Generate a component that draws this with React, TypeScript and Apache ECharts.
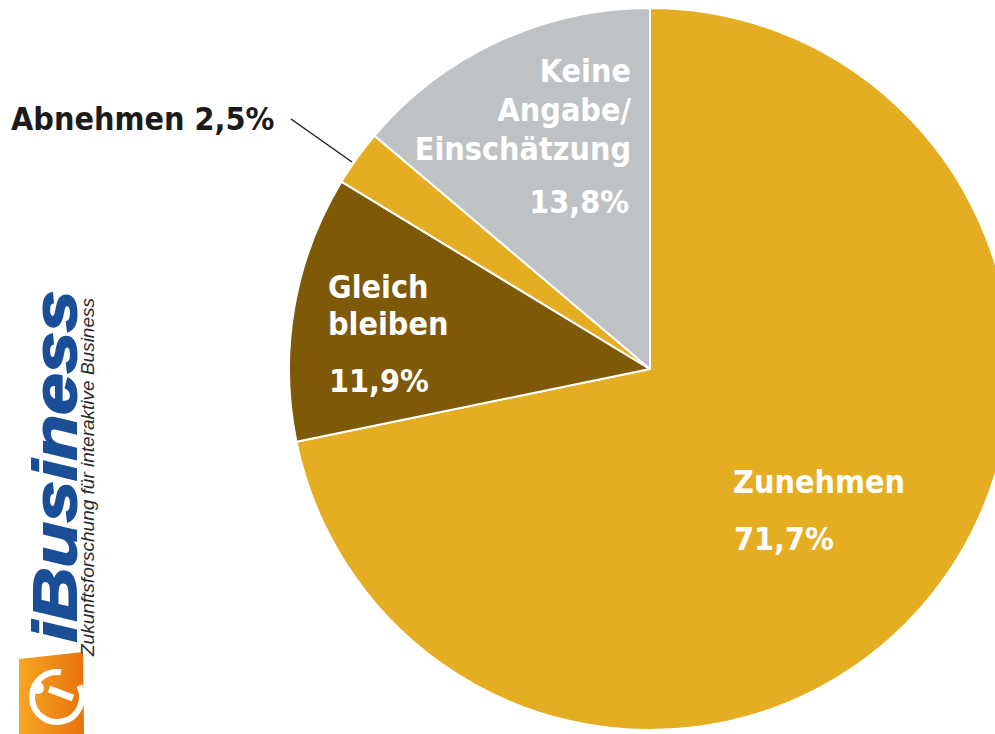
import React, { useEffect, useRef } from "react";
import * as echarts from "echarts";

const categories = ["Zunehmen", "Gleich bleiben", "Abnehmen", "Keine Angabe/Einschätzung"];
const values = [71.7, 11.9, 2.5, 13.8];
const colors = ["#E4AD22", "#7D5908", "#E4AD22", "#BFC2C4"];

const fmt = (v: number) => v.toFixed(1).replace(".", ",") + "%";

const FONT = "'DejaVu Sans Condensed', 'DejaVu Sans', sans-serif";

export default function App() {
  const ref = useRef<HTMLDivElement>(null);
  useEffect(() => {
    document.body.style.margin = "0";
    const chart = echarts.init(ref.current!, null, { renderer: "svg" });
    const white = (txt: string, x: number, y: number, align: string, lh = 38) => ({
      type: "text",
      z: 100,
      style: {
        text: txt,
        x,
        y,
        align,
        verticalAlign: "middle",
        fill: "#ffffff",
        font: `bold 32px ${FONT}`,
        lineHeight: lh,
      },
    });
    chart.setOption({
      animation: false,
      backgroundColor: "#ffffff",
      series: [
        {
          type: "pie",
          center: [650, 369],
          radius: 361,
          startAngle: 90,
          clockwise: true,
          label: { show: false },
          labelLine: { show: false },
          silent: true,
          itemStyle: { borderColor: "#ffffff", borderWidth: 2 },
          data: categories.map((c, i) => ({
            name: c,
            value: values[i],
            itemStyle: { color: colors[i] },
          })),
        },
      ],
      graphic: [
        // slice labels
        white(categories[0], 733, 482, "left"),
        white(fmt(values[0]), 734, 539, "left"),
        white("Gleich\nbleiben", 328, 305, "left", 37),
        white(fmt(values[1]), 329, 381, "left"),
        white("Keine\nAngabe/\nEinschätzung", 631, 110, "right", 39),
        white(fmt(values[3]), 629, 202, "right"),
        {
          type: "text",
          z: 100,
          style: {
            text: `${categories[2]} ${fmt(values[2])}`,
            x: 11,
            y: 119,
            align: "left",
            verticalAlign: "middle",
            fill: "#1b1b1b",
            font: `bold 32px ${FONT}`,
          },
        },
        {
          type: "line",
          z: 100,
          shape: { x1: 291, y1: 119, x2: 352, y2: 162 },
          style: { stroke: "#222222", lineWidth: 1.5 },
        },
        // logo
        {
          type: "polygon",
          shape: { points: [[19, 659], [83, 652], [84, 734], [19, 734]] },
          style: {
            fill: new echarts.graphic.LinearGradient(0, 0, 1, 0, [
              { offset: 0, color: "#F6A623" },
              { offset: 1, color: "#E8720F" },
            ]),
          },
        },
        {
          type: "arc",
          shape: { cx: 57, cy: 697, r: 25, startAngle: -Math.PI * 0.15, endAngle: Math.PI * 1.55 },
          style: { stroke: "#ffffff", lineWidth: 6, fill: "none" },
        },
        {
          type: "circle",
          shape: { cx: 38, cy: 688, r: 6 },
          style: { fill: "#ffffff" },
        },
        {
          type: "line",
          shape: { x1: 49, y1: 689, x2: 73, y2: 698 },
          style: { stroke: "#ffffff", lineWidth: 7 },
        },
        {
          type: "text",
          x: 55,
          y: 642,
          rotation: Math.PI / 2,
          scaleX: 1.2,
          style: {
            text: "iBusiness",
            align: "left",
            verticalAlign: "middle",
            fill: "#1A4F98",
            stroke: "#1A4F98",
            lineWidth: 2,
            font: "italic bold 62px 'Liberation Sans', Arial, sans-serif",
          },
        },
        {
          type: "text",
          x: 87,
          y: 656,
          rotation: Math.PI / 2,
          style: {
            text: "Zukunftsforschung für interaktive Business",
            align: "left",
            verticalAlign: "middle",
            fill: "#2a2a2a",
            font: "italic 19px 'Liberation Sans', Arial, sans-serif",
          },
        },
      ],
    });
    return () => chart.dispose();
  }, []);
  return <div ref={ref} style={{ width: 995, height: 734 }} />;
}
